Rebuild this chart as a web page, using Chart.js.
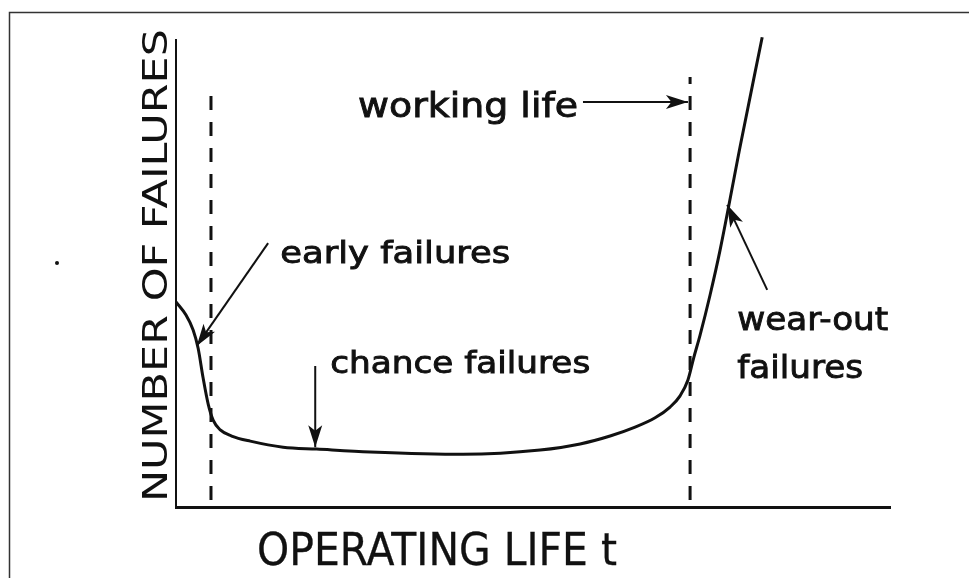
<!DOCTYPE html>
<html>
<head>
<meta charset="utf-8">
<style>
  html, body { margin: 0; padding: 0; background: #fff; }
  canvas { display: block; }
</style>
<script src="https://cdn.jsdelivr.net/npm/chart.js@4/dist/chart.umd.min.js"></script>
</head>
<body>
<canvas id="c" width="969" height="578"></canvas>
<script>
// ---- data (arbitrary units: operating life 0-100, number of failures 0-100) ----
const curveX = [0, 1.4, 2.4, 3.1, 3.8, 4.5, 5.2, 6.2, 7.8, 10.4, 15.0, 19.7, 27.2, 40.2, 51.0, 56.6, 60.8, 64.3, 67.1, 69.2, 70.6, 71.7, 72.5, 73.4, 74.8, 76.2, 79.1, 82.1];
const curveY = [43.9, 41.1, 37.9, 34.0, 27.6, 22.1, 18.6, 16.5, 15.2, 14.1, 12.8, 12.4, 11.8, 11.3, 12.2, 13.5, 15.2, 17.1, 19.1, 21.4, 23.8, 27.2, 31.9, 36.8, 45.4, 55.0, 77.9, 100.6];

const earlyBoundX = [4.9, 4.9];
const earlyBoundY = [1.5, 90.4];
const wearBoundX = [72.0, 72.0];
const wearBoundY = [1.5, 92.1];

const arrowWorkingX = [57.0, 71.7];
const arrowWorkingY = [86.7, 86.7];
const arrowEarlyX = [12.9, 2.9];
const arrowEarlyY = [56.5, 34.5];
const arrowChanceX = [19.5, 19.5];
const arrowChanceY = [30.2, 12.8];
const arrowWearX = [82.8, 77.2];
const arrowWearY = [46.5, 64.7];

const labelTexts = ["working life", "early failures", "chance failures", "wear-out", "failures"];
const xTitle = "OPERATING LIFE t";
const yTitle = "NUMBER OF FAILURES";

// ---- layout / style (not data) ----
const INK = '#111';
const FONT = '"DejaVu Sans", sans-serif';
const labelLayout = [
  { x: 25.5, y: 83.5, w: 220, size: 34 },
  { x: 14.6, y: 52.2, w: 230, size: 31 },
  { x: 21.6, y: 28.7, w: 260, size: 30 },
  { x: 78.6, y: 37.9, w: 151, size: 32 },
  { x: 78.6, y: 27.6, w: 126, size: 32 }
];

const pts = (xs, ys) => xs.map((x, i) => ({ x: x, y: ys[i] }));

function fitText(ctx, text, x, y, w, size, stroke) {
  ctx.save();
  ctx.font = size + 'px ' + FONT;
  ctx.textAlign = 'left';
  ctx.textBaseline = 'alphabetic';
  const m = ctx.measureText(text).width;
  ctx.translate(x, y);
  ctx.scale(w / m, 1);
  ctx.fillStyle = INK;
  ctx.strokeStyle = INK;
  ctx.lineWidth = stroke;
  ctx.fillText(text, 0, 0);
  if (stroke > 0) ctx.strokeText(text, 0, 0);
  ctx.restore();
}

const framePlugin = {
  id: 'frame',
  beforeDraw(chart) {
    const ctx = chart.ctx;
    ctx.save();
    ctx.fillStyle = '#fff';
    ctx.fillRect(0, 0, chart.width, chart.height);
    ctx.strokeStyle = '#333';
    ctx.lineWidth = 1.5;
    ctx.beginPath();
    ctx.moveTo(9.5, chart.height);
    ctx.lineTo(9.5, 12.5);
    ctx.lineTo(chart.width, 12.5);
    ctx.stroke();
    // stray speck from the scan
    ctx.fillStyle = INK;
    ctx.beginPath();
    ctx.arc(57, 263, 2, 0, Math.PI * 2);
    ctx.fill();
    ctx.restore();
  }
};

const annotPlugin = {
  id: 'annot',
  afterDatasetsDraw(chart) {
    const ctx = chart.ctx;
    const xs = chart.scales.x, ys = chart.scales.y;
    // arrow heads
    chart.data.datasets.forEach((ds, i) => {
      if (!ds.arrowHead) return;
      const meta = chart.getDatasetMeta(i);
      const a = meta.data[0], b = meta.data[meta.data.length - 1];
      const ang = Math.atan2(b.y - a.y, b.x - a.x);
      const L = 22, W = 7;
      ctx.save();
      ctx.translate(b.x, b.y);
      ctx.rotate(ang);
      ctx.fillStyle = INK;
      ctx.beginPath();
      ctx.moveTo(0, 0);
      ctx.lineTo(-L, -W);
      ctx.lineTo(-L * 0.75, 0);
      ctx.lineTo(-L, W);
      ctx.closePath();
      ctx.fill();
      ctx.restore();
    });
    // annotation labels
    labelTexts.forEach((t, i) => {
      const p = labelLayout[i];
      fitText(ctx, t, xs.getPixelForValue(p.x), ys.getPixelForValue(p.y), p.w, p.size, 0.9);
    });
    // axis titles
    fitText(ctx, xTitle, 257, 565, 360, 44, 0.3);
    ctx.save();
    ctx.translate(167, 265.5);
    ctx.rotate(-Math.PI / 2);
    ctx.font = '33px ' + FONT;
    const m = ctx.measureText(yTitle).width;
    ctx.scale(473 / m, 1);
    ctx.textAlign = 'center';
    ctx.textBaseline = 'alphabetic';
    ctx.fillStyle = INK;
    ctx.fillText(yTitle, 0, 0);
    ctx.restore();
  }
};

const lineDs = (data, extra) => Object.assign({
  data: data,
  borderColor: INK,
  borderWidth: 2,
  pointRadius: 0,
  fill: false,
  tension: 0,
  clip: false
}, extra || {});

new Chart(document.getElementById('c'), {
  type: 'line',
  data: {
    datasets: [
      lineDs(pts(curveX, curveY), { borderWidth: 3, cubicInterpolationMode: 'monotone' }),
      lineDs(pts(earlyBoundX, earlyBoundY), { borderWidth: 3, borderDash: [14, 12] }),
      lineDs(pts(wearBoundX, wearBoundY), { borderWidth: 3, borderDash: [14, 12] }),
      lineDs(pts(arrowWorkingX, arrowWorkingY), { arrowHead: true }),
      lineDs(pts(arrowEarlyX, arrowEarlyY), { arrowHead: true }),
      lineDs(pts(arrowChanceX, arrowChanceY), { arrowHead: true }),
      lineDs(pts(arrowWearX, arrowWearY), { arrowHead: true })
    ]
  },
  options: {
    responsive: false,
    animation: false,
    events: [],
    layout: { padding: { left: 176, right: 79, top: 40, bottom: 71 } },
    plugins: { legend: { display: false }, tooltip: { enabled: false }, title: { display: false } },
    scales: {
      x: {
        type: 'linear', min: 0, max: 100,
        ticks: { display: false },
        grid: { display: false, drawTicks: false },
        border: { display: true, color: INK, width: 3 }
      },
      y: {
        type: 'linear', min: 0, max: 100,
        ticks: { display: false },
        grid: { display: false, drawTicks: false },
        border: { display: true, color: INK, width: 2 }
      }
    }
  },
  plugins: [framePlugin, annotPlugin]
});
</script>
</body>
</html>
